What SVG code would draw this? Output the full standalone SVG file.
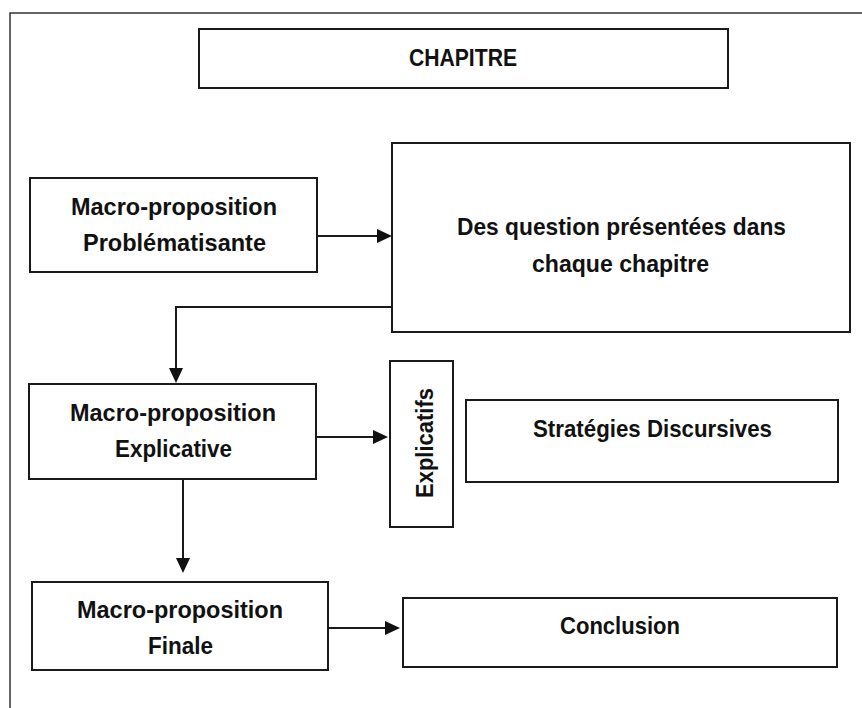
<svg xmlns="http://www.w3.org/2000/svg" width="862" height="708" viewBox="0 0 862 708">
<defs>
<style>
.box{fill:#fff;stroke:#1a1a1a;stroke-width:2}
.lbl{font-family:"Liberation Sans",Arial,sans-serif;font-weight:bold;font-size:24px;fill:#111}
.con{fill:none;stroke:#1a1a1a;stroke-width:2}
.frame{fill:none;stroke:#333;stroke-width:1.5}
</style>
<marker id="ah" markerUnits="userSpaceOnUse" markerWidth="16" markerHeight="15" refX="0" refY="7" orient="auto">
<path d="M0,0 L15,7 L0,14 z" fill="#111"/>
</marker>
</defs>
<rect width="862" height="708" fill="#fff"/>
<path class="frame" d="M10,708 V13 H862"/>

<g id="chapitre">
<rect class="box" x="199" y="29" width="529" height="59"/>
<text class="lbl" x="409" y="66" textLength="108" lengthAdjust="spacingAndGlyphs">CHAPITRE</text>
</g>

<g id="problematisante">
<rect class="box" x="30" y="178" width="287" height="94"/>
<text class="lbl" x="71" y="215" textLength="206" lengthAdjust="spacingAndGlyphs">Macro-proposition</text>
<text class="lbl" x="83" y="251" textLength="183" lengthAdjust="spacingAndGlyphs">Problématisante</text>
</g>

<g id="questions">
<rect class="box" x="392" y="143" width="458" height="189"/>
<text class="lbl" x="457" y="235" textLength="329" lengthAdjust="spacingAndGlyphs">Des question présentées dans</text>
<text class="lbl" x="532" y="272" textLength="177" lengthAdjust="spacingAndGlyphs">chaque chapitre</text>
</g>

<g id="explicative">
<rect class="box" x="29" y="384" width="287" height="95"/>
<text class="lbl" x="70" y="421" textLength="206" lengthAdjust="spacingAndGlyphs">Macro-proposition</text>
<text class="lbl" x="115" y="457" textLength="117" lengthAdjust="spacingAndGlyphs">Explicative</text>
</g>

<g id="explicatifs">
<rect class="box" x="390" y="361" width="63" height="166"/>
<text class="lbl" transform="translate(433,498) rotate(-90)" x="0" y="0" textLength="110" lengthAdjust="spacingAndGlyphs">Explicatifs</text>
</g>

<g id="strategies">
<rect class="box" x="466" y="400" width="372" height="82"/>
<text class="lbl" x="533" y="437" textLength="239" lengthAdjust="spacingAndGlyphs">Stratégies Discursives</text>
</g>

<g id="finale">
<rect class="box" x="32" y="582" width="296" height="88"/>
<text class="lbl" x="77" y="618" textLength="206" lengthAdjust="spacingAndGlyphs">Macro-proposition</text>
<text class="lbl" x="148" y="654" textLength="65" lengthAdjust="spacingAndGlyphs">Finale</text>
</g>

<g id="conclusion">
<rect class="box" x="403" y="598" width="434" height="69"/>
<text class="lbl" x="560" y="634" textLength="120" lengthAdjust="spacingAndGlyphs">Conclusion</text>
</g>

<g id="connectors">
<path class="con" d="M317,236 H377" marker-end="url(#ah)"/>
<path class="con" d="M392,307 H176 V368" marker-end="url(#ah)"/>
<path class="con" d="M316,437 H373" marker-end="url(#ah)"/>
<path class="con" d="M183,479 V558" marker-end="url(#ah)"/>
<path class="con" d="M328,628 H385" marker-end="url(#ah)"/>
</g>
</svg>
